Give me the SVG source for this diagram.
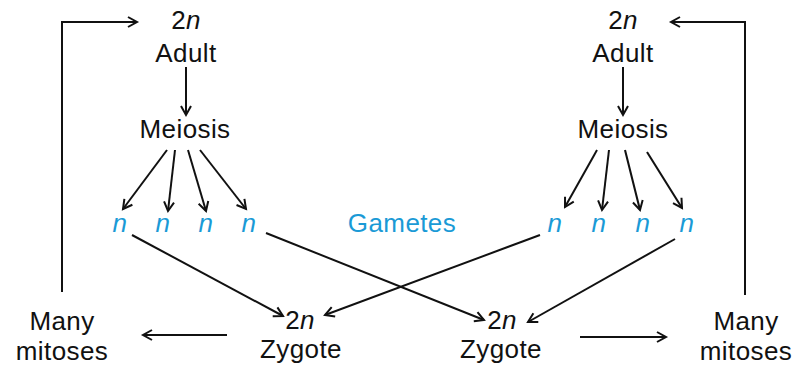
<svg xmlns="http://www.w3.org/2000/svg" width="798" height="371" viewBox="0 0 798 371">
<defs>
<marker id="ah" markerWidth="14" markerHeight="14" refX="11" refY="7" orient="auto" markerUnits="userSpaceOnUse">
<path d="M2,2 L11,7 L2,12" fill="none" stroke="#111" stroke-width="2"/>
</marker>
<style>
.t{font-family:"Liberation Sans",Arial,sans-serif;font-size:26px;fill:#111;text-anchor:middle;letter-spacing:0.4px}
.b{fill:#1a9ad6}
.i{font-style:italic}
.c{fill:none;stroke:#111;stroke-width:2}
.a{marker-end:url(#ah)}
</style>
</defs>
<rect width="798" height="371" fill="#fff"/>
<g id="connectors">
<polyline class="c a" points="62,292 62,22 137,22"/>
<polyline class="c a" points="745,295 745,22 671,22"/>
<line class="c a" x1="186" y1="67" x2="186" y2="115"/>
<line class="c a" x1="623" y1="67" x2="623" y2="115"/>
<line class="c a" x1="167" y1="150" x2="123" y2="209"/>
<line class="c a" x1="175" y1="150" x2="168" y2="211"/>
<line class="c a" x1="188" y1="150" x2="206" y2="211"/>
<line class="c a" x1="200" y1="150" x2="246" y2="209"/>
<line class="c a" x1="597" y1="150" x2="565" y2="207"/>
<line class="c a" x1="609" y1="150" x2="602" y2="210"/>
<line class="c a" x1="625" y1="150" x2="640" y2="210"/>
<line class="c a" x1="647" y1="152" x2="682" y2="208"/>
<line class="c a" x1="132" y1="235" x2="283" y2="316"/>
<line class="c a" x1="266" y1="233" x2="484" y2="320"/>
<line class="c a" x1="540" y1="235" x2="325" y2="315"/>
<line class="c a" x1="675" y1="239" x2="528" y2="322"/>
<line class="c a" x1="227" y1="335" x2="143" y2="335"/>
<line class="c a" x1="580" y1="337" x2="666" y2="337"/>
</g>
<g id="adult-left"><text class="t" x="186" y="29">2<tspan class="i">n</tspan></text><text class="t" x="186" y="62">Adult</text></g>
<g id="adult-right"><text class="t" x="623" y="29">2<tspan class="i">n</tspan></text><text class="t" x="623" y="62">Adult</text></g>
<g id="meiosis-left"><text class="t" x="185" y="138">Meiosis</text></g>
<g id="meiosis-right"><text class="t" x="623" y="138">Meiosis</text></g>
<g id="gametes-left">
<text class="t b i" x="120" y="232">n</text>
<text class="t b i" x="163" y="232">n</text>
<text class="t b i" x="206" y="232">n</text>
<text class="t b i" x="249" y="232">n</text>
</g>
<g id="gametes-right">
<text class="t b i" x="555" y="232">n</text>
<text class="t b i" x="599" y="232">n</text>
<text class="t b i" x="643" y="232">n</text>
<text class="t b i" x="687" y="232">n</text>
</g>
<g id="gametes-label"><text class="t b" x="402" y="232">Gametes</text></g>
<g id="zygote-left"><text class="t" x="300" y="329">2<tspan class="i">n</tspan></text><text class="t" x="301" y="358">Zygote</text></g>
<g id="zygote-right"><text class="t" x="502" y="329">2<tspan class="i">n</tspan></text><text class="t" x="501" y="358">Zygote</text></g>
<g id="mitoses-left"><text class="t" x="62" y="330">Many</text><text class="t" x="62" y="360">mitoses</text></g>
<g id="mitoses-right"><text class="t" x="746" y="330">Many</text><text class="t" x="746" y="360">mitoses</text></g>
</svg>
